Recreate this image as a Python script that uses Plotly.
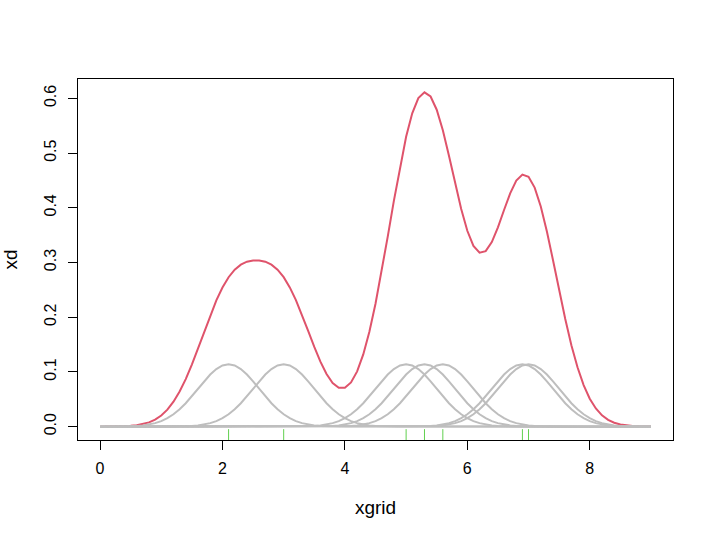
import plotly.graph_objects as go

# observations (rug marks)
obs = [2.1, 3.0, 5.0, 5.3, 5.6, 6.9, 7.0]

# evaluation grid 0..9 step 0.1
xgrid = [round(i * 0.1, 1) for i in range(91)]

# summed density xd (red curve), read at each grid point
xd = [0.0000, 0.0001, 0.0002, 0.0004, 0.0007, 0.0014, 0.0025, 0.0045, 0.0078, 0.0128,
      0.0204, 0.0310, 0.0455, 0.0641, 0.0869, 0.1135, 0.1428, 0.1733, 0.2032, 0.2307,
      0.2543, 0.2731, 0.2868, 0.2960, 0.3014, 0.3038, 0.3038, 0.3014, 0.2960, 0.2868,
      0.2732, 0.2545, 0.2311, 0.2040, 0.1748, 0.1457, 0.1188, 0.0962, 0.0798, 0.0710,
      0.0710, 0.0808, 0.1010, 0.1319, 0.1734, 0.2245, 0.2833, 0.3472, 0.4125, 0.4748,
      0.5297, 0.5727, 0.6005, 0.6109, 0.6033, 0.5792, 0.5416, 0.4951, 0.4452, 0.3976,
      0.3579, 0.3304, 0.3178, 0.3207, 0.3374, 0.3643, 0.3959, 0.4264, 0.4496, 0.4607,
      0.4567, 0.4368, 0.4024, 0.3567, 0.3042, 0.2494, 0.1966, 0.1489, 0.1085, 0.0760,
      0.0511, 0.0331, 0.0206, 0.0123, 0.0071, 0.0039, 0.0021, 0.0011, 0.0005, 0.0002,
      0.0001]

# single grey kernel bump, read at 0.1 offsets from its centre
bump_profile = [0.11398, 0.11172, 0.10522, 0.09521, 0.08277, 0.06913, 0.05548, 0.04278,
                0.03169, 0.02256, 0.01543, 0.01014, 0.00640, 0.00388, 0.00226, 0.00127,
                0.00068, 0.00035, 0.00018, 0.00008, 0.00004]

xticks = [0, 2, 4, 6, 8]
yticks = [0.0, 0.1, 0.2, 0.3, 0.4, 0.5, 0.6]

RED = "#DF536B"
GREY = "#BEBEBE"
GREEN = "#61D04F"

fig = go.Figure()
fig.add_trace(go.Scatter(x=xgrid, y=xd, mode="lines",
                         line=dict(color=RED, width=2), hoverinfo="skip"))

for o in obs:
    c = round(o * 10)
    yk = []
    for i in range(len(xgrid)):
        k = abs(i - c)
        yk.append(bump_profile[k] if k < len(bump_profile) else 0.0)
    fig.add_trace(go.Scatter(x=xgrid, y=yk, mode="lines",
                             line=dict(color=GREY, width=2), hoverinfo="skip"))

for o in obs:
    fig.add_shape(type="line", xref="x", yref="paper", x0=o, x1=o, y0=0, y1=0.03,
                  line=dict(color=GREEN, width=1))

xmin, xmax = min(xgrid), max(xgrid)
ymin, ymax = min(xd), max(xd)
xr = [xmin - 0.04 * (xmax - xmin), xmax + 0.04 * (xmax - xmin)]
yr = [ymin - 0.04 * (ymax - ymin), ymax + 0.04 * (ymax - ymin)]

FONT = "Liberation Sans, Arial, sans-serif"
fig.update_layout(
    width=714, height=538,
    margin=dict(l=78, r=41, t=79, b=98),
    paper_bgcolor="white", plot_bgcolor="white",
    showlegend=False,
    font=dict(family=FONT, size=16, color="black"),
    xaxis=dict(range=xr, tickvals=xticks, ticktext=[str(v) for v in xticks],
               showgrid=False, zeroline=False, showline=True, mirror=True,
               linecolor="black", linewidth=1, ticks="outside", ticklen=9,
               tickcolor="black", tickwidth=1, ticklabelstandoff=5,
               automargin=False,
               title=dict(text="xgrid", standoff=24)),
    yaxis=dict(range=yr, tickvals=yticks, ticktext=[f"{v:.1f}" for v in yticks],
               tickangle=-90,
               showgrid=False, zeroline=False, showline=True, mirror=True,
               linecolor="black", linewidth=1, ticks="outside", ticklen=9,
               tickcolor="black", tickwidth=1, ticklabelstandoff=6,
               automargin=False,
               title=dict(text="xd", standoff=18)),
)

fig.write_html("out.html", config={"displayModeBar": False},
               post_script="document.body.style.margin='0';document.body.style.padding='0';")
